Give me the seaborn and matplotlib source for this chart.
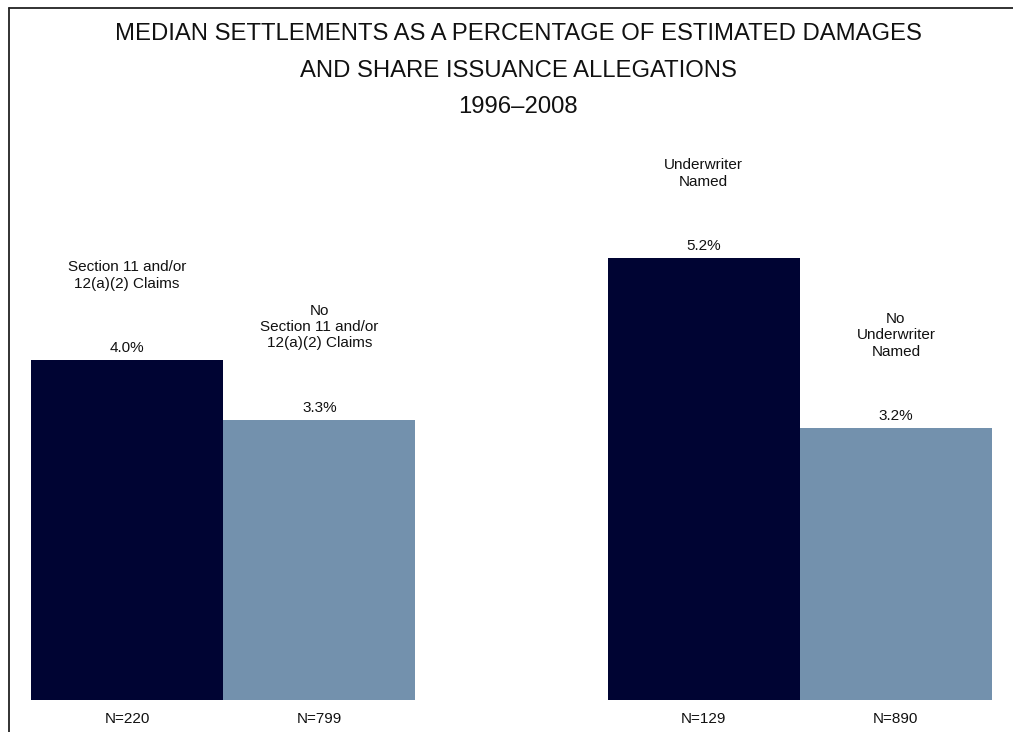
import matplotlib
matplotlib.use("Agg")
import matplotlib.pyplot as plt
import seaborn as sns
import pandas as pd
from matplotlib.lines import Line2D

# Data
categories = [
    "Section 11 and/or\n12(a)(2) Claims",
    "No\nSection 11 and/or\n12(a)(2) Claims",
    "Underwriter\nNamed",
    "No\nUnderwriter\nNamed",
]
positions = [0, 1, 3, 4]
median_pct = [4.0, 3.3, 5.2, 3.2]
sample_sizes = ["N=220", "N=799", "N=129", "N=890"]
bar_kind = ["yes", "no", "yes", "no"]

palette = {"yes": "#000433", "no": "#7391AD"}

df = pd.DataFrame({
    "pos": positions,
    "pct": median_pct,
    "kind": bar_kind,
})

sns.set_theme(style="white")
plt.rcParams["font.family"] = ["Liberation Sans", "DejaVu Sans"]

W, H = 1013, 732
fig = plt.figure(figsize=(W / 100, H / 100), dpi=100)

# axes placed so that bars span the chart area, baseline at y=700 px
ax_left, ax_right = 31 / W, 992 / W
ax_bottom = 1 - 700 / H
ax_top = 1 - 20 / H
ax = fig.add_axes([ax_left, ax_bottom, ax_right - ax_left, ax_top - ax_bottom])

sns.barplot(data=df, x="pos", y="pct", hue="kind", palette=palette,
            native_scale=True, width=1, dodge=False, legend=False,
            saturation=1, linewidth=0, ax=ax)

px_per_pct = 85
ax.set_xlim(-0.5, 4.5)
ax.set_ylim(0, (700 - 20) / px_per_pct)
ax.axis("off")

label_size = 11
for x, v, cat, n in zip(positions, median_pct, categories, sample_sizes):
    ax.annotate(f"{v:.1f}%", (x, v), xytext=(0, 8.5), textcoords="offset points",
                ha="center", va="center", fontsize=label_size, color="#111111")
    ax.annotate(cat, (x, v), xytext=(0, 50), textcoords="offset points",
                ha="center", va="bottom", fontsize=label_size, color="#111111",
                linespacing=1.2)
    ax.annotate(n, (x, 0), xytext=(0, -13.5), textcoords="offset points",
                ha="center", va="center", fontsize=label_size, color="#111111")

# Title
title_lines = [
    "MEDIAN SETTLEMENTS AS A PERCENTAGE OF ESTIMATED DAMAGES",
    "AND SHARE ISSUANCE ALLEGATIONS",
    "1996\u20132008",
]
title_y = [33.5, 71, 107]
for line, yp in zip(title_lines, title_y):
    fig.text(518 / W, 1 - yp / H, line, ha="center", va="center",
             fontsize=17.2, color="#111111")

# Frame lines along the top and left edges
fig.add_artist(Line2D([8.5 / W, 8.5 / W], [0, 1 - 7.5 / H], transform=fig.transFigure,
                      color="#222222", lw=1.3))
fig.add_artist(Line2D([8.5 / W, 1], [1 - 7.5 / H, 1 - 7.5 / H], transform=fig.transFigure,
                      color="#222222", lw=1.3))

fig.savefig("out.png", dpi=100)
